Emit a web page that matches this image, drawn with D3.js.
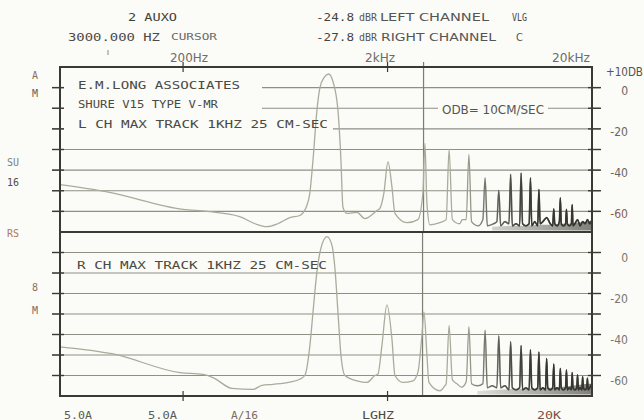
<!DOCTYPE html>
<html><head><meta charset="utf-8">
<script src="https://cdn.jsdelivr.net/npm/d3@7"></script>
<style>
html,body{margin:0;padding:0;background:#fbfbf7;}
svg{display:block;}
.mono{font-family:"DejaVu Sans Mono","Liberation Mono",monospace;}
.thin{font-family:"Liberation Sans Narrow","DejaVu Sans",sans-serif;font-stretch:condensed;}
</style></head><body>
<svg id="chart" width="644" height="420"></svg>
<script>
// ---------- data ----------
const freqTicks = [200, 2000, 20000];
const freqTickLabels = ["200Hz", "2kHz", "20kHz"];
const dbGrid = [0, -10, -20, -30, -40, -50, -60];
const topDbTicks = [10, 0, -20, -40, -60];
const topDbLabels = ["+10DB", "0", "-20", "-40", "-60"];
const bottomDbTicks = [0, -20, -40, -60];
const bottomDbLabels = ["0", "-20", "-40", "-60"];
const cursorFreq = 3000;
const bottomAxisLabels = ["5.0A", "5.0A", "A/16", "LGHZ", "20K"];

// left channel trace [Hz, dB]
const leftTrace = [
  [50,-47],[85,-50.5],[200,-59],[262,-60],[378,-62.5],[450,-66],[513,-67.4],[580,-66],
  [665,-63],[744,-62],[800,-58],[834,-51],[864,-35],[903,-11],[934,0],[980,5],[1030,6.6],
  [1081,3],[1144,-11],[1183,-35],[1210,-58],[1266,-61],[1417,-60.5],[1550,-63.5],[1774,-59.6],
  [1835,-58.5],[1920,-51],[2009,-36],[2101,-48],[2174,-61],[2489,-65.5],[2815,-64],[2978,-51],
  [3047,-27],[3116,-56],[3223,-66.5],[3607,-65.5],[3870,-64],
  [4000,-30],[4150,-64],[4500,-66],[4650,-64],[4850,-64],[5000,-32.4],[5150,-65],[5550,-67],
  [5850,-64],[6000,-43.8],[6150,-67],[6600,-66],[6850,-65],[7000,-49.8],[7150,-67],[7500,-65],
  [7850,-66],[8000,-42],[8150,-67],[8500,-66],[8850,-67],[9000,-41.4],[9150,-66],[9500,-67],
  [9850,-66],[10000,-43.8],[10150,-67],[10500,-65],[10850,-67],[11000,-49.4],[11150,-66],
  [11500,-65],[12000,-63],[12500,-66],[12850,-67],[13000,-58.8],[13150,-66],[13500,-67],
  [13850,-65],[14000,-53.5],[14150,-66],[14500,-67],[14850,-66],[15000,-59],[15150,-66],
  [15500,-67],[15850,-66],[16000,-56.7],[16150,-67],[16500,-66],[17000,-64],[17500,-67],
  [18000,-65],[18500,-66],[19000,-64],[19500,-66],[20000,-64]
];
// right channel trace [Hz, dB]
const rightTrace = [
  [50,-46],[91,-49.5],[193,-58.6],[250,-59.5],[280,-61],[347,-66.3],[439,-66.8],[486,-64.8],
  [550,-64.3],[665,-63.2],[744,-61.8],[788,-60],[834,-45.4],[864,-29],[903,-9.3],[944,2],
  [1011,7.7],[1069,3.6],[1106,-7.8],[1144,-29],[1183,-50],[1238,-60],[1417,-62.6],[1585,-63.4],
  [1735,-60],[1795,-59.3],[1877,-45.4],[1986,-25.5],[2101,-42],[2174,-60],[2379,-63.4],
  [2661,-62.6],[2815,-58.5],[2945,-40.5],[3013,-29],[3116,-50],[3187,-63.4],[3607,-67.5],
  [3815,-65],[3870,-64],
  [4000,-35.6],[4150,-62],[4400,-64.3],[4600,-65.7],[4850,-63],[5000,-36.2],[5150,-64],
  [5500,-65],[5850,-64],[6000,-37.9],[6150,-66],[6500,-65],[6850,-66],[7000,-40.6],[7150,-66],
  [7500,-65],[7850,-67],[8000,-43.5],[8150,-66],[8500,-67],[8850,-66],[9000,-45.4],[9150,-67],
  [9500,-66],[9850,-67],[10000,-47.5],[10150,-66],[10500,-67],[10850,-66],[11000,-48.6],
  [11150,-67],[11500,-66],[11850,-67],[12000,-51.7],[12150,-66],[12500,-67],[12850,-66],
  [13000,-54.4],[13150,-67],[13500,-66],[13850,-67],[14000,-56.5],[14150,-66],[14500,-67],
  [14850,-66],[15000,-57.3],[15150,-67],[15500,-66],[15850,-67],[16000,-58.6],[16150,-66],
  [16500,-67],[16850,-66],[17000,-59.7],[17150,-67],[17500,-66],[17850,-67],[18000,-60.5],
  [18150,-66],[18500,-67],[18850,-66],[19000,-61.3],[19150,-67],[19500,-66],[20000,-64]
];
// dark noise floor band (upper edge) [Hz, dB]
const leftNoise = [[6500,-67.5],[8000,-67],[9500,-67],[11000,-66.5],[12500,-66.5],[14000,-66],
  [15500,-66],[17000,-65.5],[18500,-65],[20000,-64.5]];
const rightNoise = [[5500,-67.5],[7000,-67],[8500,-66.5],[10000,-66.5],[11500,-66],[13000,-66],
  [14500,-65.5],[16000,-65],[17500,-64.5],[19000,-64],[20000,-64]];

// ---------- drawing ----------
const svg = d3.select("#chart");
const x = d3.scaleLog().domain([50, 20000]).range([60, 592]);
const yTop = d3.scaleLinear().domain([-70, 10]).range([232, 67]);
const yBot = d3.scaleLinear().domain([-70, 10]).range([396, 232]);

const defs = svg.append("defs");
const g1 = defs.append("linearGradient").attr("id","tg").attr("gradientUnits","userSpaceOnUse")
  .attr("x1",455).attr("x2",545).attr("y1",0).attr("y2",0);
g1.append("stop").attr("offset",0).attr("stop-color","#a8ac9b");
g1.append("stop").attr("offset",1).attr("stop-color","#3c3c34");
const g2 = defs.append("linearGradient").attr("id","tg2").attr("gradientUnits","userSpaceOnUse")
  .attr("x1",470).attr("x2",535).attr("y1",0).attr("y2",0);
g2.append("stop").attr("offset",0).attr("stop-color","#34342d").attr("stop-opacity",0);
g2.append("stop").attr("offset",1).attr("stop-color","#34342d").attr("stop-opacity",0.85);
const g3 = defs.append("linearGradient").attr("id","tg3").attr("gradientUnits","userSpaceOnUse")
  .attr("x1",480).attr("x2",592).attr("y1",0).attr("y2",0);
g3.append("stop").attr("offset",0).attr("stop-color","#2e2e28").attr("stop-opacity",0.15);
g3.append("stop").attr("offset",1).attr("stop-color","#2e2e28").attr("stop-opacity",0.6);

const gridColor = "#8f8f86";
const frameColor = "#3a3a32";

function gridlines(y){
  svg.append("g").selectAll("line").data(dbGrid).join("line")
    .attr("x1",52).attr("x2",600).attr("y1",d=>y(d)).attr("y2",d=>y(d))
    .attr("stroke",gridColor).attr("stroke-width",1.1);
  svg.append("g").selectAll("line").data(dbGrid).join("line")
    .attr("x1",52).attr("x2",64).attr("y1",d=>y(d)).attr("y2",d=>y(d))
    .attr("stroke",frameColor).attr("stroke-width",1.4);
  svg.append("g").selectAll("line").data(dbGrid).join("line")
    .attr("x1",588).attr("x2",601).attr("y1",d=>y(d)).attr("y2",d=>y(d))
    .attr("stroke",frameColor).attr("stroke-width",1.4);
}
gridlines(yTop);
gridlines(yBot);

// blanking under the annotation text
const bg = "#fbfbf7";
[[64,79,198,12],[64,98,198,12],[64,118,269,12],[438,104,110,12]].forEach(r=>{
  svg.append("rect").attr("x",r[0]).attr("y",r[1]).attr("width",r[2]).attr("height",r[3]).attr("fill",bg);
});

// cursor
const cx = x(cursorFreq);
svg.append("line").attr("x1",cx).attr("x2",cx).attr("y1",62).attr("y2",yTop(-70))
  .attr("stroke","#7d7d74").attr("stroke-width",1.2);
svg.append("line").attr("x1",cx-1).attr("x2",cx-1).attr("y1",yBot(10)).attr("y2",yBot(-70))
  .attr("stroke","#7d7d74").attr("stroke-width",1.2);

// noise bands
function noise(data, y){
  const area = d3.area().x(d=>x(d[0])).y0(y(-69.3)).y1(d=>y(d[1])).curve(d3.curveLinear);
  svg.append("path").datum(data).attr("d",area).attr("fill","url(#tg3)");
}
noise(leftNoise, yTop);
noise(rightNoise, yBot);

// traces
function trace(data, y){
  const line = d3.line().x(d=>x(d[0])).y(d=>y(d[1])).curve(d3.curveMonotoneX);
  svg.append("path").datum(data).attr("d",line).attr("fill","none")
    .attr("stroke","url(#tg)").attr("stroke-width",1.3).attr("stroke-linejoin","round");
  svg.append("path").datum(data).attr("d",line).attr("fill","none")
    .attr("stroke","url(#tg2)").attr("stroke-width",1.7).attr("stroke-linejoin","round");
}
trace(leftTrace, yTop);
trace(rightTrace, yBot);

// frame
svg.append("rect").attr("x",60).attr("y",67).attr("width",532).attr("height",329)
  .attr("fill","none").attr("stroke",frameColor).attr("stroke-width",2);
svg.append("line").attr("x1",60).attr("x2",592).attr("y1",232).attr("y2",232)
  .attr("stroke",frameColor).attr("stroke-width",2);
svg.append("g").selectAll("line").data(freqTicks.slice(0,2)).join("line")
  .attr("x1",d=>x(d)).attr("x2",d=>x(d)).attr("y1",62).attr("y2",72)
  .attr("stroke",frameColor).attr("stroke-width",1.2);
svg.append("g").selectAll("line").data(freqTicks.slice(0,2)).join("line")
  .attr("x1",d=>x(d)).attr("x2",d=>x(d)).attr("y1",391).attr("y2",401)
  .attr("stroke",frameColor).attr("stroke-width",1.2);

// ---------- text ----------
function txt(s, px, py, o){
  o = o || {};
  const t = svg.append("text").attr("x",px).attr("y",py).text(s)
    .attr("class",o.cls||"mono").attr("font-size",o.size||11)
    .attr("fill",o.fill||"#4a4a44").attr("dominant-baseline","central")
    .attr("text-anchor",o.anchor||"start");
  if(o.len){ t.attr("textLength",o.len).attr("lengthAdjust","spacingAndGlyphs"); }
  return t;
}
txt("2 AUXO",128,17,{len:49,fill:"#3e3e3c"});
txt("3000.000 HZ",68,37,{len:92,fill:"#4a4a46"});
txt("CURSOR",171,37,{len:46,size:9,fill:"#6a6a64"});
svg.append("line").attr("x1",108).attr("x2",108).attr("y1",50).attr("y2",55).attr("stroke","#888").attr("stroke-width",1);
txt("-24.8",316,17,{len:38,fill:"#444"});
txt("dBR",359,17,{len:18,size:10,fill:"#555"});
txt("LEFT CHANNEL",380,17,{len:109,cls:"thin",size:11,fill:"#555"});
txt("VLG",512,17,{len:15,fill:"#444"});
txt("-27.8",316,37,{len:38,fill:"#444"});
txt("dBR",359,37,{len:18,size:10,fill:"#555"});
txt("RIGHT CHANNEL",381,37,{len:115,cls:"thin",size:11,fill:"#555"});
txt("C",516,37,{fill:"#555",cls:"thin"});
const fLabPos = [[170,"start"],[365,"start"],[590,"end"]];
freqTickLabels.forEach((s,i)=>{
  txt(s, fLabPos[i][0], 58, {cls:"thin",size:12,fill:"#6c6c68",anchor:fLabPos[i][1],len:[38,30,38][i]});
});
topDbTicks.forEach((d,i)=>{
  if(i===0) txt(topDbLabels[i],606,yTop(d)+5,{cls:"thin",size:12,fill:"#555",len:37});
  else txt(topDbLabels[i],628,yTop(d)+3,{cls:"thin",size:12,anchor:"end",fill:(d===-60?"#8a5e52":"#66665f")});
});
bottomDbTicks.forEach((d,i)=>{
  txt(bottomDbLabels[i],628,yBot(d)+5,{cls:"thin",size:12,anchor:"end",fill:"#77776f"});
});
[["A",32,75,"#8a6e62"],["M",32,93,"#6a5a55"],["SU",7,162,"#7a8282"],["16",7,182,"#5a4a40"],
 ["RS",7,233,"#b07a55"],["8",32,287,"#8a7064"],["M",32,310,"#7a6a62"]].forEach(a=>{
  txt(a[0],a[1],a[2],{size:10,fill:a[3]});
});
txt("E.M.LONG ASSOCIATES",78,85,{len:162});
txt("SHURE V15 TYPE V-MR",78,104,{len:140});
txt("L CH MAX TRACK 1KHZ 25 CM-SEC",78,124,{len:250});
txt("ODB= 10CM/SEC",442,110,{cls:"thin",size:12,len:102,fill:"#55554f"});
txt("R CH MAX TRACK 1KHZ 25 CM-SEC",77,265,{len:250});
const bPos = [[64,28,"#5a5a50"],[148,29,"#5a5a50"],[231,27,"#7a6a60"],[362,32,"#4a4a44"],[537,24,"#7a5040"]];
bottomAxisLabels.forEach((s,i)=>txt(s,bPos[i][0],415,{len:bPos[i][1],fill:bPos[i][2]}));
</script>
</body></html>
